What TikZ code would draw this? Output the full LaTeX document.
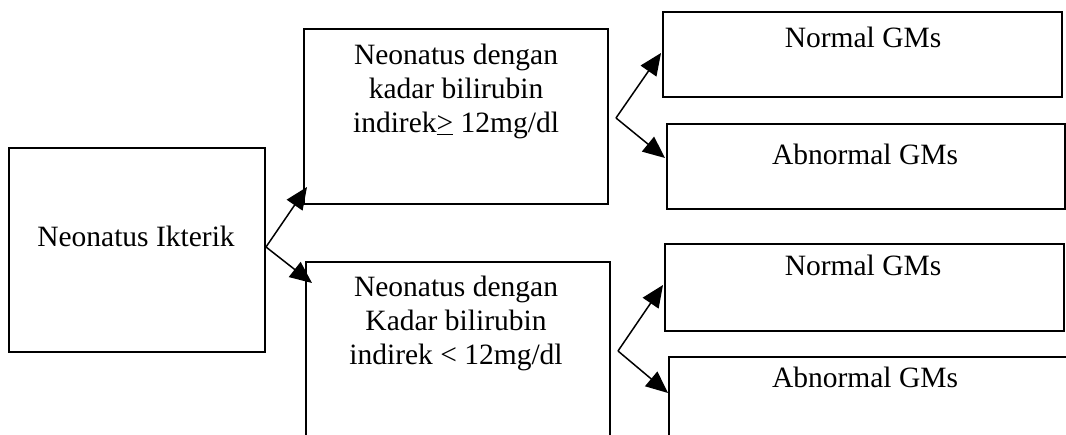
\documentclass[tikz,border=0pt]{standalone}
\usepackage{fontspec}
\setmainfont{Liberation Serif}
\usetikzlibrary{arrows.meta}
\tikzset{
  box/.style={draw, line width=1.6pt, inner sep=0pt, rectangle},
  txt/.style={anchor=base, inner sep=0pt, font=\fontsize{29.5}{34}\selectfont},
  arr/.style={line width=1.5pt, -{Triangle[length=22pt,width=19pt]}}
}
\begin{document}
\begin{tikzpicture}[x=1pt,y=-1pt]
\useasboundingbox (0,0) rectangle (1066,435);
\fill[white] (0,0) rectangle (1066,435);
\clip (0,0) rectangle (1066,435);
% boxes
\node[box, minimum width=256pt, minimum height=204pt] (L) at (137,250) {};
\node[box, minimum width=304pt, minimum height=175pt] (UM) at (456,116.5) {};
\node[box, minimum width=304pt, minimum height=210pt] (LM) at (458,367) {};
\node[box, minimum width=399pt, minimum height=85pt] (UR1) at (862.5,54.5) {};
\node[box, minimum width=398pt, minimum height=85pt] (UR2) at (866,166.5) {};
\node[box, minimum width=399pt, minimum height=87pt] (LR1) at (864.5,287.5) {};
\node[box, minimum width=398pt, minimum height=120pt] (LR2) at (868,417) {};
% texts
\node[txt] (tL) at (136,247) {Neonatus Ikterik};
\node[txt] (tUM1) at (456,65) {Neonatus dengan};
\node[txt] (tUM2) at (456,99) {kadar bilirubin};
\node[txt] (tUM3) at (456,133) {indirek\underline{>} 12mg/dl};
\node[txt] (tLM1) at (456,297) {Neonatus dengan};
\node[txt] (tLM2) at (456,331) {Kadar bilirubin};
\node[txt] (tLM3) at (456,365) {indirek < 12mg/dl};
\node[txt] (tUR1) at (863,48) {Normal GMs};
\node[txt] (tUR2) at (865,165) {Abnormal GMs};
\node[txt] (tLR1) at (863,276) {Normal GMs};
\node[txt] (tLR2) at (865,388) {Abnormal GMs};
% arrow coordinates
\coordinate (s1) at (266,247);
\coordinate (e1a) at (307,187);
\coordinate (e1b) at (312,283);
\coordinate (s2) at (616,118);
\coordinate (e2a) at (661,53);
\coordinate (e2b) at (665,158);
\coordinate (s3) at (618,351);
\coordinate (e3a) at (663,285);
\coordinate (e3b) at (668,393);
\draw[arr] (s1) -- (e1a);
\draw[arr] (s1) -- (e1b);
\draw[arr] (s2) -- (e2a);
\draw[arr] (s2) -- (e2b);
\draw[arr] (s3) -- (e3a);
\draw[arr] (s3) -- (e3b);
\end{tikzpicture}
\end{document}
